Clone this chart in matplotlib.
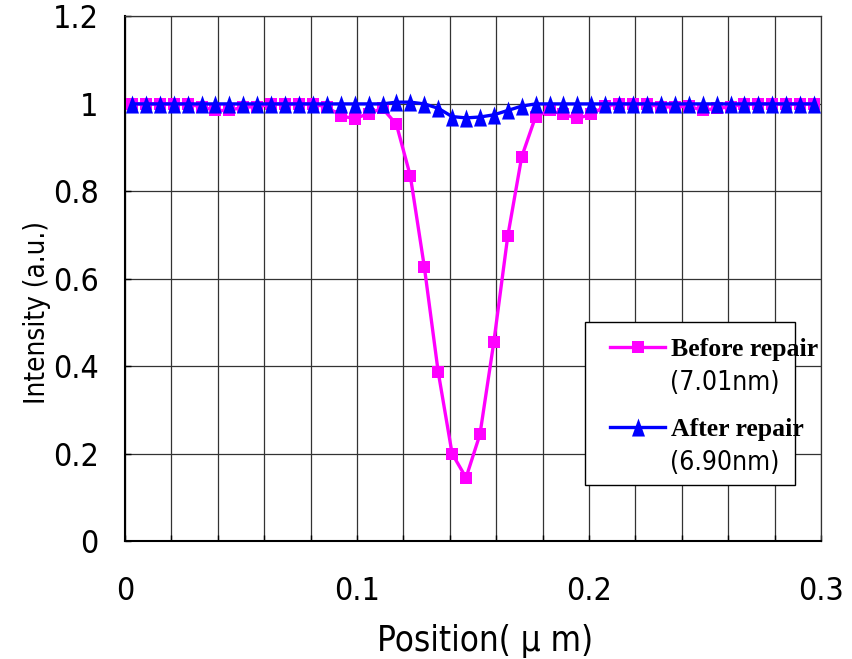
import matplotlib
matplotlib.use("Agg")
import matplotlib.pyplot as plt
from matplotlib import font_manager as fm
from matplotlib.patches import Rectangle
from matplotlib.ticker import MultipleLocator, FuncFormatter

# positions (um)
position = [0.003, 0.009, 0.015, 0.021, 0.027, 0.033, 0.039, 0.045, 0.051, 0.057,
            0.063, 0.069, 0.075, 0.081, 0.087, 0.093, 0.099, 0.105, 0.111, 0.117,
            0.123, 0.129, 0.135, 0.141, 0.147, 0.153, 0.159, 0.165, 0.171, 0.177,
            0.183, 0.189, 0.195, 0.201, 0.207, 0.213, 0.219, 0.225, 0.231, 0.237,
            0.243, 0.249, 0.255, 0.261, 0.267, 0.273, 0.279, 0.285, 0.291, 0.297]

before = [1.0, 1.0, 1.0, 1.0, 1.0, 0.993, 0.985, 0.985, 0.993, 0.993,
          1.0, 1.0, 1.0, 1.0, 0.993, 0.973, 0.966, 0.978, 0.99, 0.953,
          0.835, 0.628, 0.387, 0.200, 0.145, 0.244, 0.456, 0.698, 0.879, 0.971,
          0.985, 0.976, 0.967, 0.976, 0.995, 1.0, 1.0, 1.0, 0.993, 0.993,
          0.995, 0.985, 0.99, 0.993, 1.0, 1.0, 1.0, 1.0, 1.0, 1.0]

after = [1.0, 1.0, 1.0, 1.0, 1.0, 1.0, 1.0, 1.0, 1.0, 1.0,
         1.0, 1.0, 1.0, 1.0, 1.0, 1.0, 1.0, 1.0, 1.0, 1.004,
         1.004, 1.0, 0.99, 0.971, 0.968, 0.97, 0.975, 0.985, 0.995, 1.0,
         1.0, 1.0, 1.0, 1.0, 1.0, 1.0, 1.0, 1.0, 1.0, 1.0,
         1.0, 1.0, 1.0, 1.0, 1.0, 1.0, 1.0, 1.0, 1.0, 1.0]

labels = ["Before repair", "After repair"]
widths = ["(7.01nm)", "(6.90nm)"]

# pick a narrow sans font if one is around, else plain Liberation Sans
names = set(f.name for f in fm.fontManager.ttflist)
condensed = set(f.name for f in fm.fontManager.ttflist
                if f.stretch in ("condensed", "semi-condensed", 600, 500))
narrow = False
if "Liberation Sans Narrow" in names:
    plt.rcParams["font.family"] = ["Liberation Sans Narrow", "DejaVu Sans"]
    narrow = True
elif "Arial Narrow" in names:
    plt.rcParams["font.family"] = ["Arial Narrow", "DejaVu Sans"]
    narrow = True
elif "DejaVu Sans" in condensed:
    plt.rcParams["font.family"] = ["DejaVu Sans"]
    plt.rcParams["font.stretch"] = "condensed"
    narrow = True
else:
    plt.rcParams["font.family"] = ["Liberation Sans", "DejaVu Sans"]
serif = ["Liberation Serif", "DejaVu Serif"]

tick_fs = 23 if narrow else 20
xlab_fs = 25 if narrow else 22
ylab_fs = 20 if narrow else 18

fig = plt.figure(figsize=(8.52, 6.59), dpi=100)
ax = fig.add_axes([0.1467, 0.179, 0.8169, 0.796])

tri = [(0, 1), (-0.72, -1), (0.72, -1)]

l1, = ax.plot(position, before, color="#FF00FF", lw=2.4, marker="s", ms=9.3,
              mec="#FF00FF", mew=0, zorder=3, clip_on=False)
l2, = ax.plot(position, after, color="#0000FF", lw=2.4, marker=tri, ms=13,
              mec="#0000FF", mew=0, zorder=4, clip_on=False)

ax.set_xlim(0, 0.3)
ax.set_ylim(0, 1.2)
ax.xaxis.set_major_locator(MultipleLocator(0.1))
ax.xaxis.set_minor_locator(MultipleLocator(0.02))
ax.yaxis.set_major_locator(MultipleLocator(0.2))
ax.xaxis.set_major_formatter(FuncFormatter(lambda v, p: "%g" % round(v, 2)))
ax.yaxis.set_major_formatter(FuncFormatter(lambda v, p: "%g" % round(v, 2)))

ax.grid(True, which="both", axis="x", color="#333333", lw=0.9)
ax.grid(True, which="major", axis="y", color="#333333", lw=0.9)
ax.set_axisbelow(True)

ax.tick_params(axis="both", which="both", direction="in", length=4, width=1,
               labelsize=tick_fs)
ax.tick_params(axis="x", which="major", pad=25)
ax.tick_params(axis="y", which="major", pad=19)

for s in ["left", "bottom"]:
    ax.spines[s].set_linewidth(1.5)
    ax.spines[s].set_color("black")
for s in ["top", "right"]:
    ax.spines[s].set_linewidth(0.9)
    ax.spines[s].set_color("#333333")

ax.set_xlabel("Position( μ m)", fontsize=xlab_fs)
ax.set_ylabel("Intensity (a.u.)", fontsize=ylab_fs)
ax.xaxis.set_label_coords(0.518, -0.158)
ax.yaxis.set_label_coords(-0.106, 0.435)

# legend frame
ax.add_patch(Rectangle((0.661, 0.107), 0.3017, 0.3108, transform=ax.transAxes,
                       facecolor="white", edgecolor="black", lw=1.0, zorder=5))

leg_prop = {"family": serif, "weight": "bold", "size": 18.5}
leg1 = ax.legend([l1], [labels[0]], loc="center left", bbox_to_anchor=(0.6968, 0.366),
                 frameon=False, borderpad=0, borderaxespad=0, handlelength=2.15,
                 handletextpad=0.22, prop=leg_prop)
leg1.set_zorder(6)
ax.add_artist(leg1)
leg2 = ax.legend([l2], [labels[1]], loc="center left", bbox_to_anchor=(0.6968, 0.2135),
                 frameon=False, borderpad=0, borderaxespad=0, handlelength=2.15,
                 handletextpad=0.22, prop=leg_prop)
leg2.set_zorder(6)

sub_fs = 19 if narrow else 17
ax.text(0.783, 0.301, widths[0], transform=ax.transAxes, ha="left", va="center",
        fontsize=sub_fs, zorder=7)
ax.text(0.783, 0.149, widths[1], transform=ax.transAxes, ha="left", va="center",
        fontsize=sub_fs, zorder=7)

fig.savefig("out.png", dpi=100)
